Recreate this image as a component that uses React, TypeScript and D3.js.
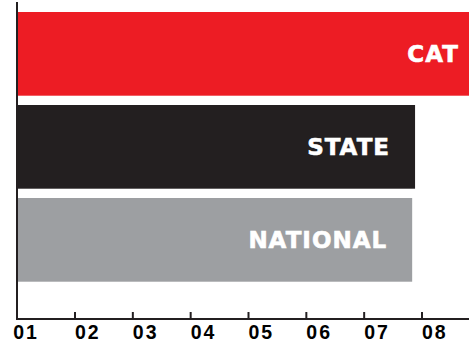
import React from "react";
import * as d3 from "d3";

const categories = ["CAT", "STATE", "NATIONAL"];
const values = [9.07, 7.88, 7.83];
const colors = ["#ED1C24", "#231F20", "#9D9FA2"];
const tickValues = [1, 2, 3, 4, 5, 6, 7, 8];
const tickLabels = ["01", "02", "03", "04", "05", "06", "07", "08"];

const W = 469;
const H = 344;

export default function App() {
  const x = d3.scaleLinear().domain([1, 8]).range([17.17, 422]);
  const y = d3
    .scaleBand<string>()
    .domain(categories)
    .range([12, 281.7])
    .paddingInner(0.1)
    .paddingOuter(0);
  const axisY = 319;
  const axisColor = "#231F20";

  return (
    <svg
      width={W}
      height={H}
      viewBox={`0 0 ${W} ${H}`}
      style={{ position: "absolute", left: 0, top: 0, background: "#fff" }}
    >
      {categories.map((c, i) => {
        const y0 = y(c) as number;
        const bw = y.bandwidth();
        const xEnd = x(values[i]);
        return (
          <g key={c}>
            <rect x={18} y={y0} width={xEnd - 18} height={bw} fill={colors[i]} />
            <text
              x={xEnd - 25}
              y={y0 + bw / 2 + 8.5}
              textAnchor="end"
              fill="#fff"
              stroke="#fff"
              strokeWidth={0.6}
              fontFamily="'DejaVu Sans', sans-serif"
              fontWeight="bold"
              fontSize={23}
              letterSpacing={1}
            >
              {c}
            </text>
          </g>
        );
      })}
      {/* vertical axis */}
      <line x1={17} x2={17} y1={2} y2={axisY + 1} stroke={axisColor} strokeWidth={2} />
      {/* horizontal axis */}
      <line x1={16} x2={W} y1={axisY} y2={axisY} stroke={axisColor} strokeWidth={2} />
      {tickValues.map((v, i) => (
        <g key={v}>
          {i > 0 && (
            <line
              x1={x(v)}
              x2={x(v)}
              y1={312}
              y2={axisY}
              stroke={axisColor}
              strokeWidth={2}
            />
          )}
          <text
            x={x(v) + (i === 0 ? -4 : 0)}
            y={338.5}
            textAnchor="start"
            fill="#000"
            fontFamily="'Liberation Sans', Arial, sans-serif"
            fontWeight="bold"
            fontSize={19.5}
            letterSpacing={2}
          >
            {tickLabels[i]}
          </text>
        </g>
      ))}
    </svg>
  );
}
